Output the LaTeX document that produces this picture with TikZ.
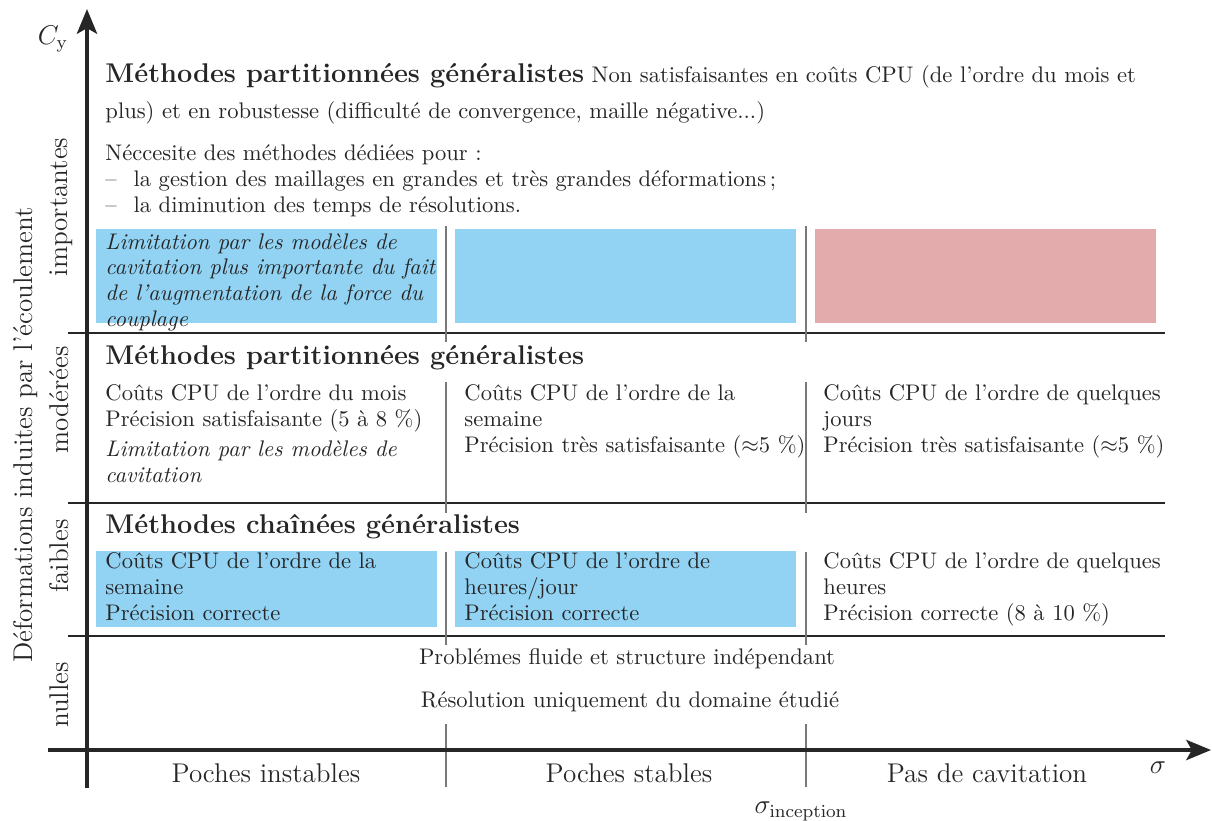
\documentclass[tikz,border=0pt]{standalone}
\usetikzlibrary{arrows.meta}
\definecolor{cblue}{RGB}{146,211,244}
\definecolor{cpink}{RGB}{227,171,171}
\definecolor{vgray}{RGB}{120,120,120}
\definecolor{ink}{RGB}{38,38,38}
\begin{document}
\begin{tikzpicture}[x=0.443pt,y=-0.443pt,
  every node/.style={text=ink, inner sep=0pt},
  txt/.style={anchor=base west, align=left, font=\fontsize{10}{11.3}\selectfont},
  ctxt/.style={anchor=base, align=center, font=\fontsize{10}{11.3}\selectfont},
  ital/.style={txt, font=\fontsize{10}{11.3}\selectfont\itshape},
  head/.style={anchor=base west, font=\large\bfseries},
  axlab/.style={anchor=base, font=\large},
  vlab/.style={anchor=base, rotate=90, font=\large},
  sep/.style={draw=ink, line width=0.6pt},
  vsep/.style={draw=vgray, line width=0.6pt},
  axis/.style={draw=ink, line width=1.4pt, -{Stealth[length=11pt, width=9pt, inset=2.5pt]}},
  bluebox/.style={fill=cblue},
  pinkbox/.style={fill=cpink}]
\useasboundingbox (0,0) rectangle (1212,820);

% coloured boxes
\fill[bluebox] (96,229) rectangle (437,323);
\fill[bluebox] (455,229) rectangle (796,323);
\fill[pinkbox] (815,229) rectangle (1156,323);
\fill[bluebox] (96,551) rectangle (437,627);
\fill[bluebox] (455,551) rectangle (796,627);

% horizontal separators
\coordinate (h1a) at (68,333); \coordinate (h1b) at (1165,333);
\coordinate (h2a) at (68,503); \coordinate (h2b) at (1165,503);
\coordinate (h3a) at (68,636); \coordinate (h3b) at (1165,636);
\draw[sep] (h1a) -- (h1b);
\draw[sep] (h2a) -- (h2b);
\draw[sep] (h3a) -- (h3b);

% vertical separators
\foreach \xx in {446,806}{
  \draw[vsep] (\xx,226) -- (\xx,342);
  \draw[vsep] (\xx,382) -- (\xx,513);
  \draw[vsep] (\xx,552) -- (\xx,645);
  \draw[vsep] (\xx,724) -- (\xx,787);
}

% axes
\coordinate (ybot) at (87,788); \coordinate (ytop) at (87,9);
\coordinate (xl) at (48,750); \coordinate (xr) at (1211,750);
\draw[axis] (ybot) -- (ytop);
\draw[axis] (xl) -- (xr);

% axis labels
\node[anchor=base, font=\large] (cy) at (53,44) {$C_{\mathrm{y}}$};
\node[axlab] (sig) at (1158,773) {$\sigma$};
\node[axlab] (sigi) at (801,813) {$\sigma_{\mathrm{inception}}$};
\node[axlab] (pi) at (266,782) {Poches instables};
\node[axlab] (ps) at (629,782) {Poches stables};
\node[axlab] (pc) at (987,782) {Pas de cavitation};

\node[vlab] (vimp) at (67,207) {importantes};
\node[vlab] (vmod) at (68,400) {modérées};
\node[vlab] (vfai) at (68,556) {faibles};
\node[vlab] (vnul) at (68,695) {nulles};
\node[vlab] (vdef) at (32,435) {Déformations induites par l’écoulement};

% top region
\node[txt] (t1) at (105,82) {{\large\bfseries Méthodes partitionnées généralistes} Non satisfaisantes en coûts CPU (de l’ordre du mois et};
\node[txt] (t2) at (105,118) {plus) et en robustesse (difficulté de convergence, maille négative...)};
\node[txt] (t3) at (105,212) {Néccesite des méthodes dédiées pour :\\
–\hspace{7.5pt}la gestion des maillages en grandes et très grandes déformations\,;\\
–\hspace{7.5pt}la diminution des temps de résolutions.};
\node[ital] (t4) at (105,326) {Limitation par les modèles de\\cavitation plus importante du fait\\de l’augmentation de la force du\\couplage};

% moderate region
\node[head] (m0) at (105,364) {Méthodes partitionnées généralistes};
\node[txt] (m1) at (105,426) {Coûts CPU de l’ordre du mois\\Précision satisfaisante (5 à 8~\%)};
\node[ital] (m1b) at (105,482) {Limitation par les modèles de\\cavitation};
\node[txt] (m2) at (464,452) {Coûts CPU de l’ordre de la\\semaine\\Précision très satisfaisante ($\approx$5~\%)};
\node[txt] (m3) at (823,452) {Coûts CPU de l’ordre de quelques\\jours\\Précision très satisfaisante ($\approx$5~\%)};

% weak region
\node[head] (f0) at (105,533) {Méthodes chaînées généralistes};
\node[txt] (f1) at (105,620) {Coûts CPU de l’ordre de la\\semaine\\Précision correcte};
\node[txt] (f2) at (464,620) {Coûts CPU de l’ordre de\\heures/jour\\Précision correcte};
\node[txt] (f3) at (823,620) {Coûts CPU de l’ordre de quelques\\heures\\Précision correcte (8 à 10~\%)};

% null region
\node[ctxt] (n1) at (627,664) {Problémes fluide et structure indépendant};
\node[ctxt] (n2) at (630,707) {Résolution uniquement du domaine étudié};
\end{tikzpicture}
\end{document}
